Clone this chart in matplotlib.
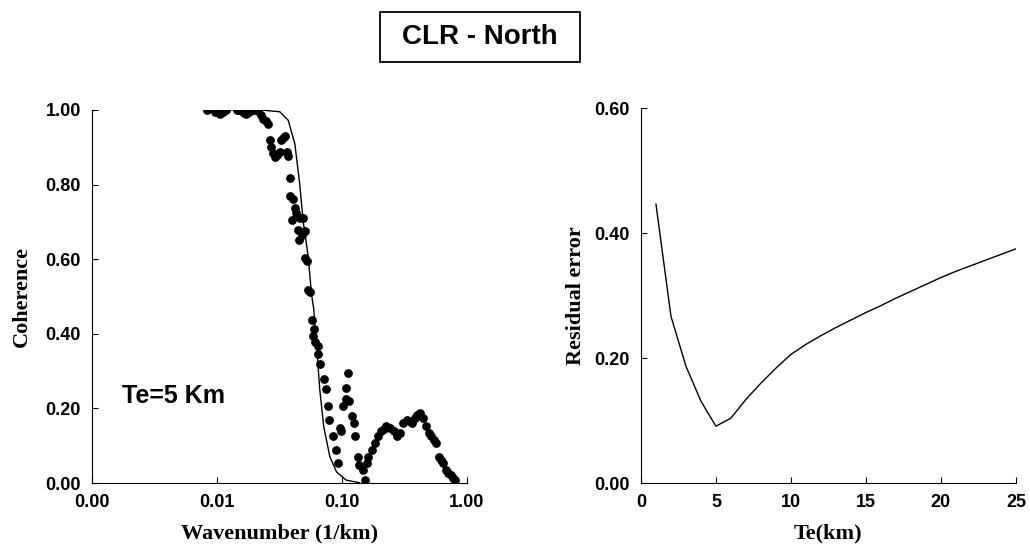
# CLR - North : 관측 coherence (점) + Te=5 km 모델 곡선, 오른쪽은 Te별 잔차
import matplotlib.pyplot as plt
from matplotlib.patches import Rectangle

# 관측 coherence (wavenumber 1/km, coherence)
obs_k = [0.0083, 0.0096, 0.0105, 0.0112, 0.0119, 0.0144, 0.0151, 0.0158, 0.0165, 0.0172,
         0.0181, 0.019, 0.0202, 0.0214, 0.0225, 0.0235, 0.0246, 0.0258, 0.0266, 0.0273,
         0.0282, 0.0291, 0.0305, 0.0318, 0.0328, 0.0338, 0.0349, 0.0361, 0.0372, 0.0384,
         0.0384, 0.0408, 0.042, 0.0402, 0.0433, 0.046, 0.0487, 0.0446, 0.0475, 0.0456,
         0.0504, 0.0504, 0.0526, 0.0536, 0.0552, 0.0572, 0.0594, 0.0587, 0.0612, 0.0644,
         0.0644, 0.0665, 0.0715, 0.075, 0.0771, 0.0785, 0.0842, 0.0889, 0.0922, 0.0958,
         0.0988, 0.1013, 0.1078, 0.1078, 0.1109, 0.1148, 0.121, 0.1259, 0.1282, 0.1337,
         0.138, 0.1466, 0.152, 0.158, 0.163, 0.173, 0.183, 0.195, 0.207, 0.217,
         0.227, 0.243, 0.26, 0.276, 0.291, 0.31, 0.33, 0.345, 0.362, 0.384,
         0.40, 0.419, 0.446, 0.474, 0.50, 0.52, 0.545, 0.57, 0.6, 0.62,
         0.64, 0.68, 0.71, 0.74, 0.78, 0.80]
obs_coh = [1.00, 0.995, 0.99, 0.995, 1.00, 1.00, 1.00, 0.997, 0.993, 0.99,
           0.995, 1.00, 1.00, 0.997, 0.985, 0.976, 0.97, 0.963, 0.918, 0.90,
           0.885, 0.873, 0.88, 0.886, 0.918, 0.925, 0.93, 0.886, 0.877, 0.817,
           0.77, 0.76, 0.738, 0.706, 0.724, 0.711, 0.711, 0.679, 0.666, 0.652,
           0.675, 0.603, 0.594, 0.517, 0.513, 0.436, 0.414, 0.395, 0.378, 0.368,
           0.346, 0.319, 0.278, 0.251, 0.206, 0.17, 0.125, 0.089, 0.053, 0.148,
           0.139, 0.206, 0.224, 0.256, 0.296, 0.22, 0.179, 0.161, 0.125, 0.071,
           0.049, 0.035, 0.008, 0.053, 0.071, 0.089, 0.107, 0.125, 0.139, 0.145,
           0.152, 0.148, 0.139, 0.125, 0.134, 0.161, 0.17, 0.165, 0.161, 0.175,
           0.182, 0.188, 0.175, 0.152, 0.135, 0.125, 0.115, 0.107, 0.071, 0.062,
           0.053, 0.035, 0.028, 0.022, 0.013, 0.008]

# Te=5 km 모델 곡선
model_k = [0.009, 0.015, 0.022, 0.0318, 0.0372, 0.042, 0.046, 0.049, 0.0536, 0.0572,
           0.0594, 0.063, 0.0665, 0.0715, 0.080, 0.0905, 0.108, 0.138]
model_coh = [1.00, 1.00, 1.00, 0.995, 0.972, 0.909, 0.80, 0.70, 0.61, 0.504,
             0.468, 0.36, 0.25, 0.152, 0.071, 0.03, 0.008, 0.001]

# 잔차 vs Te
te = list(range(1, 26))
resid = [0.4465, 0.267, 0.187, 0.131, 0.091, 0.104, 0.134, 0.160, 0.184, 0.206,
         0.222, 0.236, 0.249, 0.261, 0.273, 0.284, 0.296, 0.307, 0.318, 0.329,
         0.339, 0.348, 0.357, 0.366, 0.375]

tick_font = {'family': 'Liberation Sans', 'weight': 'bold', 'size': 13}
label_font = {'family': 'Liberation Serif', 'weight': 'bold', 'size': 16}

fig = plt.figure(figsize=(10.3, 5.44), dpi=100)
ax1 = fig.add_axes([0.0893, 0.112, 0.364, 0.686])
ax2 = fig.add_axes([0.6223, 0.112, 0.364, 0.689])

# 왼쪽: coherence
ax1.scatter(obs_k, obs_coh, s=28, color='black', zorder=3)
ax1.plot(model_k, model_coh, color='black', linewidth=1)
ax1.set_xscale('log')
ax1.set_xlim(0.001, 1)
ax1.set_ylim(0, 1)
ax1.set_xticks([0.001, 0.01, 0.1, 1])
ax1.set_xticklabels(['0.00', '0.01', '0.10', '1.00'])
ax1.minorticks_off()
ax1.set_yticks([0, 0.2, 0.4, 0.6, 0.8, 1.0])
ax1.set_yticklabels(['0.00', '0.20', '0.40', '0.60', '0.80', '1.00'])
ax1.set_xlabel('Wavenumber (1/km)', fontdict=label_font, labelpad=9)
ax1.set_ylabel('Coherence', fontdict=label_font, labelpad=10)
ax1.text(0.00174, 0.232, 'Te=5 Km', fontsize=18, fontweight='bold',
         family='Liberation Sans', va='center')

# 오른쪽: residual error
ax2.plot(te, resid, color='black', linewidth=1)
ax2.set_xlim(0, 25)
ax2.set_ylim(0, 0.6)
ax2.set_xticks([0, 5, 10, 15, 20, 25])
ax2.set_yticks([0, 0.2, 0.4, 0.6])
ax2.set_yticklabels(['0.00', '0.20', '0.40', '0.60'])
ax2.set_xlabel('Te(km)', fontdict=label_font, labelpad=9)
ax2.set_ylabel('Residual error', fontdict=label_font, labelpad=6)

for ax in (ax1, ax2):
    ax.spines['top'].set_visible(False)
    ax.spines['right'].set_visible(False)
    ax.tick_params(direction='in', length=4, width=0.8, pad=8)
    for lab in ax.get_xticklabels() + ax.get_yticklabels():
        lab.set_fontproperties(tick_font)

# 제목 상자
fig.text(0.466, 0.932, 'CLR - North', ha='center', va='center', fontsize=20,
         fontweight='bold', family='Liberation Sans')
fig.patches.append(Rectangle((380 / 1030, 1 - 62 / 544), 200 / 1030, 50 / 544,
                             transform=fig.transFigure, fill=False,
                             edgecolor='black', linewidth=1.3))

plt.savefig('out.png', dpi=100)
